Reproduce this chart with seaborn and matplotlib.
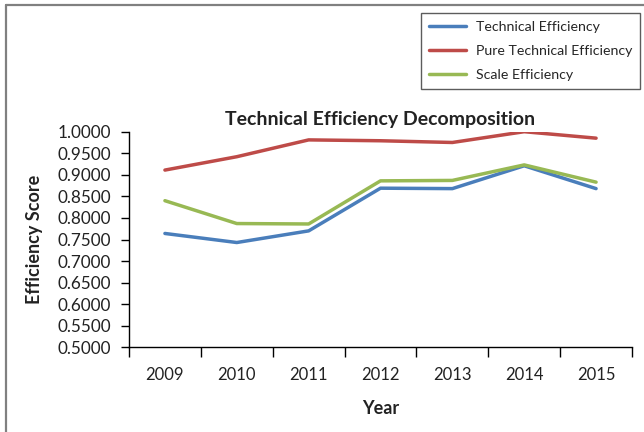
import numpy as np
import pandas as pd
import matplotlib
matplotlib.use('Agg')
import matplotlib.pyplot as plt
import seaborn as sns
from matplotlib.lines import Line2D

sns.set_theme(style="white")
plt.rcParams['font.family'] = ['Lato', 'DejaVu Sans']

years = [2009, 2010, 2011, 2012, 2013, 2014, 2015]
technical = [0.764, 0.743, 0.770, 0.869, 0.868, 0.921, 0.868]
pure_technical = [0.911, 0.942, 0.981, 0.979, 0.975, 1.000, 0.985]
scale = [0.840, 0.787, 0.786, 0.886, 0.887, 0.923, 0.883]
series_names = ['Technical Efficiency', 'Pure Technical Efficiency', 'Scale Efficiency']
colors = ['#4A7EBB', '#BE4B48', '#98B954']

df = pd.DataFrame({
    'Year': years * 3,
    'Score': technical + pure_technical + scale,
    'Series': [n for n in series_names for _ in years],
})

fig = plt.figure(figsize=(6.44, 4.32), dpi=100)
ax = fig.add_axes([129 / 644, 1 - 347.3 / 432, (632 - 129) / 644, (347.3 - 131.7) / 432])

sns.lineplot(data=df, x='Year', y='Score', hue='Series', palette=colors,
             linewidth=2.5, ax=ax, legend=False, sort=False)

ax.set_xlim(2008.5, 2015.5)
ax.set_ylim(0.5, 1.0)
yt = np.arange(0.5, 1.0001, 0.05)
ax.set_yticks(yt)
ax.set_yticklabels([f'{v:.4f}' for v in yt])
ax.set_xticks(np.arange(2008.5, 2016, 1.0))
ax.set_xticklabels([])
ax.set_xticks(years, minor=True)
ax.set_xticklabels([str(y) for y in years], minor=True)
ax.tick_params(axis='x', which='major', direction='out', length=7, width=1, color='black', bottom=True)
ax.tick_params(axis='x', which='minor', length=0, pad=14.5, labelsize=12, labelcolor='#222222')
ax.tick_params(axis='y', direction='out', length=6, width=1, color='black', left=True,
               labelsize=12.3, labelcolor='#222222', pad=7)

for s in ['top', 'right']:
    ax.spines[s].set_visible(False)
for s in ['left', 'bottom']:
    ax.spines[s].set_color('black')
    ax.spines[s].set_linewidth(1)

ax.set_xlabel('Year', fontsize=13, fontweight='bold', labelpad=12, color='#222222')
ax.set_ylabel('Efficiency Score', fontsize=13, fontweight='bold', labelpad=10.5, color='#222222')
ax.set_title('Technical Efficiency Decomposition', fontsize=14, fontweight='bold',
             pad=5, color='#222222')

handles = [Line2D([0], [0], color=c, lw=2.5) for c in colors]
leg = fig.legend(handles, series_names, loc='upper left',
                 bbox_to_anchor=(421 / 644, 1 - 13 / 432), frameon=True,
                 fontsize=10.2, handlelength=2.6, handletextpad=0.75,
                 borderpad=0.55, labelspacing=0.85, borderaxespad=0, fancybox=False)
leg.get_frame().set_edgecolor('#333333')
leg.get_frame().set_linewidth(1)

# outer chart border (left and top edges visible)
fig.add_artist(Line2D([6 / 644, 6 / 644], [0, 1 - 5 / 432], transform=fig.transFigure,
                      color='#808080', lw=1.6))
fig.add_artist(Line2D([6 / 644, 1], [1 - 5 / 432, 1 - 5 / 432], transform=fig.transFigure,
                      color='#808080', lw=1.6))

plt.savefig('out.png', dpi=100)
